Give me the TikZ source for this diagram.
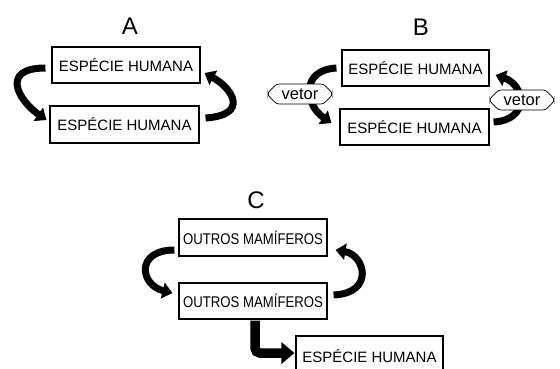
\documentclass[tikz,border=0pt]{standalone}
\usepackage{fontspec}
\setmainfont{Liberation Sans}
\newfontfamily\condfont[FakeStretch=0.85]{Liberation Sans}
\usetikzlibrary{arrows.meta,shapes.misc}
\begin{document}
\begin{tikzpicture}[x=1pt,y=-1pt,
  box/.style={draw,line width=1.1pt,inner sep=0pt,minimum width=148pt,minimum height=36pt,font=\fontsize{15}{18}\selectfont},
  smallbox/.style={box,font=\condfont\fontsize{15.5}{18}\selectfont},
  lbl/.style={inner sep=0pt,font=\fontsize{24}{28}\selectfont},
  cyc/.style={line width=7pt,-{Triangle[length=10pt,width=16pt]}},
  bigarrow/.style={line width=9.5pt,rounded corners=5pt,-{Triangle[length=13pt,width=21pt]}},
  vet/.style={draw,line width=0.7pt,fill=white,chamfered rectangle,chamfered rectangle xsep=5pt,
    rounded corners=2.5pt,inner sep=1pt,minimum width=64pt,minimum height=17pt,font=\fontsize{16.5}{19}\selectfont}]
\useasboundingbox (0,0) rectangle (560,368);

% Panel A
\node[lbl] (la) at (130,26) {A};
\node[box] (a1) at (126,65) {ESPÉCIE HUMANA};
\node[box,minimum width=149pt,minimum height=37pt] (a2) at (124.5,124.5) {ESPÉCIE HUMANA};
\draw[cyc] ([shift={(-6,3)}]a1.west) .. controls (0,68) and (18,100) .. ([shift={(-3,-4.5)}]a2.west);
\draw[cyc] ([shift={(6,-6.5)}]a2.east) .. controls (250,115) and (232,88) .. ([shift={(4,8)}]a1.east);

% Panel B
\node[lbl] (lb) at (421,27) {B};
\node[box,minimum width=147pt] (b1) at (415.5,68) {ESPÉCIE HUMANA};
\node[box,minimum width=149pt] (b2) at (414.5,127) {ESPÉCIE HUMANA};
\draw[cyc] ([shift={(-5,0)}]b1.west) .. controls (300,70) and (305,105) .. ([shift={(-8,-4)}]b2.west);
\draw[cyc] ([shift={(4,-5)}]b2.east) .. controls (530,120) and (525,85) .. ([shift={(6,7)}]b1.east);
\node[vet] (v1) at (300,94) {vetor};
\node[vet] (v2) at (522,100) {vetor};

% Panel C
\node[lbl] (lc) at (256,200) {C};
\node[smallbox,minimum height=37pt] (c1) at (253,237.5) {OUTROS MAMÍFEROS};
\node[smallbox] (c2) at (253,301) {OUTROS MAMÍFEROS};
\node[box,minimum width=147pt,minimum height=40pt] (c3) at (369.5,356) {ESPÉCIE HUMANA};
\draw[cyc] ([shift={(-4,12.5)}]c1.west) .. controls (135,250) and (140,285) .. ([shift={(-6,-8)}]c2.west);
\draw[cyc] ([shift={(6,-6)}]c2.east) .. controls (375,293) and (365,255) .. ([shift={(8,12.5)}]c1.east);
\draw[bigarrow] ([shift={(2,1)}]c2.south) |- ([shift={(-1,-3)}]c3.west);
\end{tikzpicture}
\end{document}
